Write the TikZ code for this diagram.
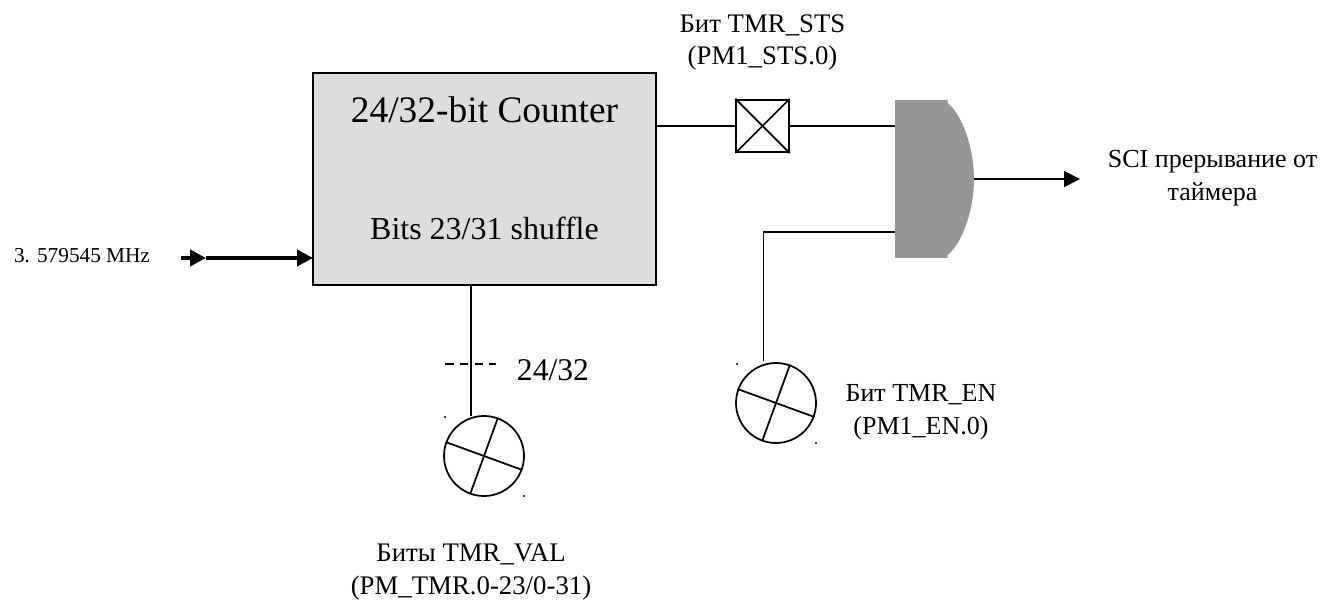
\documentclass[tikz,border=0pt]{standalone}
\usepackage{fontspec}
\usepackage{xcolor}
\setmainfont{Liberation Serif}
\usetikzlibrary{arrows.meta}
\definecolor{boxgray}{RGB}{221,221,221}
\definecolor{gategray}{RGB}{150,150,150}
\tikzset{
  wire/.style={line width=1pt},
  label/.style={font=\fontsize{14.8pt}{18.7pt}\selectfont,align=center,inner sep=0pt},
  biglabel/.style={font=\fontsize{15.25pt}{18.7pt}\selectfont,align=center,inner sep=0pt},
  bigtxt/.style={inner sep=0pt},
  gauge/.style={circle,draw,line width=1pt,minimum size=1.6cm,inner sep=0pt},
  tip/.style={-{Triangle[length=0.32cm,width=0.32cm]}},
}
\begin{document}
\begin{tikzpicture}
\useasboundingbox (0,0) rectangle (26.48,11.98);
% counter
\node[draw,fill=boxgray,wire,minimum width=6.86cm,minimum height=4.24cm,inner sep=0pt] (counter) at (9.69,8.4) {};
\node[bigtxt,font=\fontsize{21.3pt}{25pt}\selectfont] (countertxt) at (9.69,9.78) {24/32-bit Counter};
\node[bigtxt,font=\fontsize{18.2pt}{22pt}\selectfont] (shuffletxt) at (9.69,7.42) {Bits 23/31 shuffle};
% clock input
\node[inner sep=0pt,font=\fontsize{12.1pt}{14pt}\selectfont] (clock) at (1.64,6.86) {3. 579545 MHz};
\coordinate (clkA) at (3.62,6.82);
\coordinate (clkB) at (4.12,6.82);
\coordinate (clkC) at (6.26,6.82);
\draw[tip,line width=2.3pt] (clkA) -- (clkB);
\draw[tip,line width=2.3pt] (clkB) -- (clkC);
% status bit
\node[draw,wire,minimum size=1.05cm,inner sep=0pt] (stsbit) at (15.25,9.46) {};
\draw[wire] (stsbit.north west) -- (stsbit.south east);
\draw[wire] (stsbit.north east) -- (stsbit.south west);
\node[biglabel] (ststxt) at (15.25,11.13) {Бит TMR\_STS\\(PM1\_STS.0)};
% gate
\coordinate (gateA) at (17.9,9.46);
\coordinate (gateB) at (17.9,7.34);
\coordinate (gateC) at (19.48,8.4);
\fill[gategray] (17.9,6.82) -- (18.95,6.82) -- (18.95,6.88) .. controls (19.24,7.1) and (19.48,7.78) .. (gateC)
  .. controls (19.48,9.02) and (19.24,9.7) .. (18.95,9.92) -- (18.95,9.98) -- (17.9,9.98) -- cycle;
\draw[wire] (counter.east |- stsbit) -- (stsbit);
\draw[wire] (stsbit) -- (gateA);
% output
\coordinate (sciend) at (21.6,8.4);
\draw[wire,tip] (gateC) -- (sciend);
\node[label] (scitxt) at (24.25,8.42) {SCI прерывание от\\таймера};
% enable bit
\node[gauge] (enbit) at (15.52,3.92) {};
\draw[wire] (enbit.70) -- (enbit.250);
\draw[wire] (enbit.160) -- (enbit.340);
\coordinate (enend) at (15.27,4.76);
\draw[wire] (gateB) -| (enend);
\node[label] (entxt) at (18.42,3.73) {Бит TMR\_EN\\(PM1\_EN.0)};
% value bits
\node[gauge] (valbit) at (9.68,2.86) {};
\draw[wire] (valbit.70) -- (valbit.250);
\draw[wire] (valbit.160) -- (valbit.340);
\coordinate (valtop) at (9.42,6.28);
\coordinate (valend) at (9.42,3.66);
\draw[wire] (valtop) -- (valend);
\coordinate (dashA) at (8.9,4.7);
\coordinate (dashB) at (9.92,4.7);
\draw[wire,dash pattern=on 0.17cm off 0.125cm] (dashA) -- (dashB);
\node[bigtxt,font=\fontsize{18pt}{22pt}\selectfont] (widthtxt) at (11.06,4.58) {24/32};
\node[biglabel] (valtxt) at (9.42,0.54) {Биты TMR\_VAL\\(PM\_TMR.0-23/0-31)};
% corner specks
\foreach \x/\y in {8.9/3.64,10.48/2.06,14.74/4.7,16.32/3.12}{
\fill (\x,\y) circle (0.6pt);
}
\end{tikzpicture}
\end{document}
